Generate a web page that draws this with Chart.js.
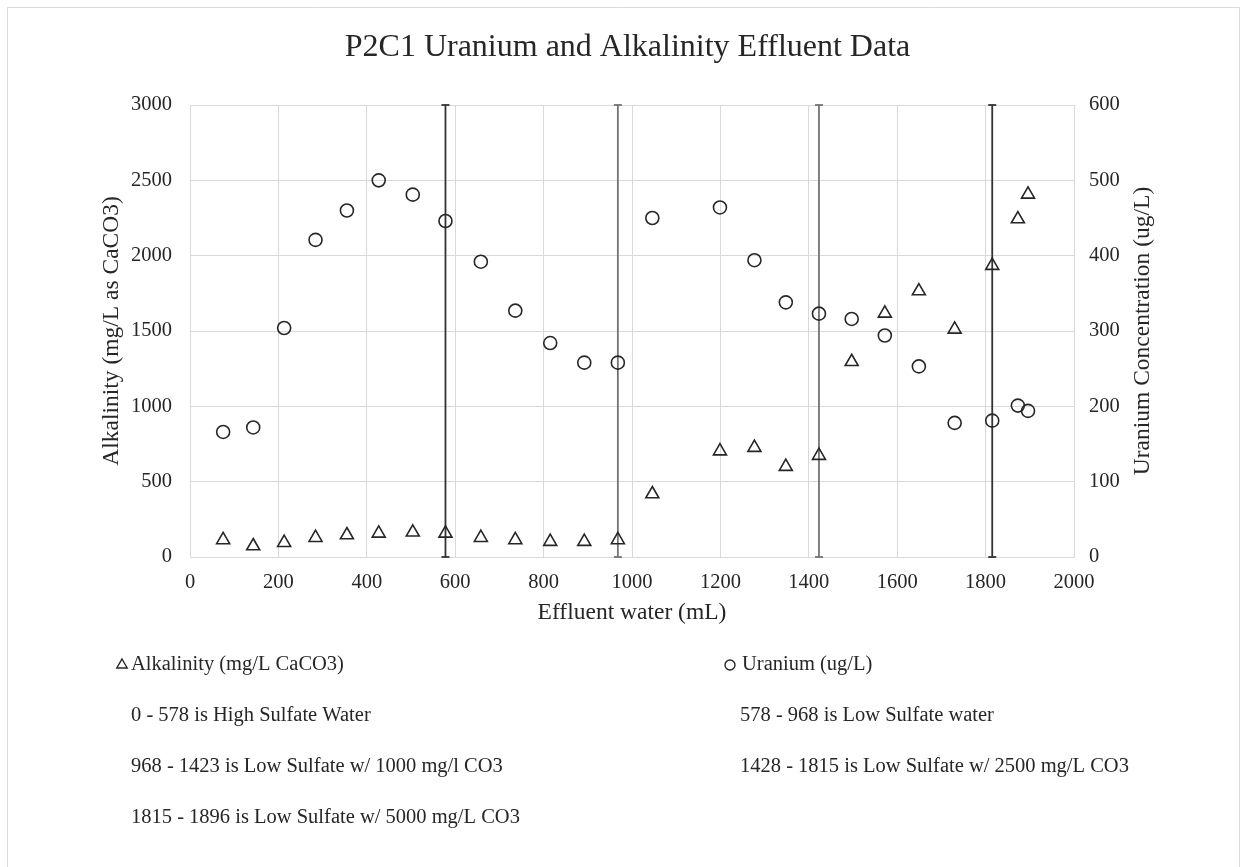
<!DOCTYPE html>
<html>
<head>
<meta charset="utf-8">
<script src="https://cdn.jsdelivr.net/npm/chart.js@4.4.1/dist/chart.umd.min.js"></script>
<style>
  html, body { margin: 0; padding: 0; background: #fff; }
</style>
</head>
<body>
<canvas id="chart" width="1245" height="867"></canvas>
<script>
// effluent volume (mL) shared by both series
const effluent = [75, 143, 213, 284, 355, 427, 504, 578, 658, 736, 815, 892, 968,
                  1046, 1199, 1277, 1348, 1423, 1497, 1572, 1649, 1730, 1815, 1873, 1896];
const alkalinity = [113, 73, 95, 128, 146, 157, 164, 157, 128, 113, 102, 102, 113,
                    418, 703, 726, 600, 673, 1296, 1617, 1765, 1511, 1934, 2243, 2407];
const uranium = [166, 172, 304, 421, 460, 500, 481, 446, 392, 327, 284, 258, 258,
                 450, 464, 394, 338, 323, 316, 294, 253, 178, 181, 201, 194];
// water change points, drawn as vertical lines
const boundaries = [578, 968, 1423, 1815];
const rangeLabels = [
    '0 - 578 is High Sulfate Water',
    '578 - 968 is Low Sulfate water',
    '968 - 1423 is Low Sulfate w/ 1000 mg/l CO3',
    '1428 - 1815 is Low Sulfate w/ 2500 mg/L CO3',
    '1815 - 1896 is Low Sulfate w/ 5000 mg/L CO3'
];
const xTicks = [0, 2000, 200];
const yTicks = [0, 3000, 500];
const y2Ticks = [0, 600, 100];

const FONT = "'Liberation Serif', 'Times New Roman', serif";
const INK = '#262626';
const GRID = '#d9d9d9';

const datasets = [
    {
        label: 'Alkalinity (mg/L CaCO3)',
        data: effluent.map((x, i) => ({ x: x, y: alkalinity[i] })),
        yAxisID: 'y',
        pointStyle: 'triangle',
        pointRadius: 7.5,
        borderColor: INK,
        backgroundColor: 'rgba(0,0,0,0)',
        borderWidth: 1.6,
        legendMarker: 6
    },
    {
        label: 'Uranium (ug/L)',
        data: effluent.map((x, i) => ({ x: x, y: uranium[i] })),
        yAxisID: 'y2',
        pointStyle: 'circle',
        pointRadius: 6.5,
        borderColor: INK,
        backgroundColor: 'rgba(0,0,0,0)',
        borderWidth: 1.6,
        legendMarker: 5
    }
];

const lineColors = ['#333333', '#737373', '#737373', '#333333'];
rangeLabels.forEach((lbl, i) => {
    const b = boundaries[i];
    datasets.push({
        label: lbl,
        data: b === undefined ? [] : [{ x: b, y: yTicks[0] }, { x: b, y: yTicks[1] }],
        yAxisID: 'y',
        showLine: true,
        clip: false,
        borderColor: lineColors[i] || INK,
        backgroundColor: lineColors[i] || INK,
        borderWidth: 1.8,
        pointStyle: 'line',
        pointRadius: 4,
        pointBorderWidth: 1.8
    });
});

// legend laid out in two columns under the plot
const legendSpots = [
    { mx: 122, tx: 131, y: 665 },
    { mx: 730, tx: 742, y: 665 },
    { tx: 131, y: 716 },
    { tx: 740, y: 716 },
    { tx: 131, y: 767 },
    { tx: 740, y: 767 },
    { tx: 131, y: 818 }
];

const columnLegend = {
    id: 'columnLegend',
    afterDraw(chart) {
        const ctx = chart.ctx;
        ctx.save();
        ctx.font = '20.5px ' + FONT;
        ctx.textBaseline = 'middle';
        ctx.textAlign = 'left';
        chart.data.datasets.forEach((ds, i) => {
            const spot = legendSpots[i];
            if (!spot) return;
            if (spot.mx !== undefined) {
                ctx.strokeStyle = ds.borderColor;
                ctx.fillStyle = 'rgba(0,0,0,0)';
                ctx.lineWidth = 1.4;
                Chart.helpers.drawPoint(ctx, {
                    pointStyle: ds.pointStyle,
                    radius: ds.legendMarker,
                    rotation: 0,
                    borderWidth: 1.4
                }, spot.mx, spot.y);
            }
            ctx.fillStyle = INK;
            ctx.fillText(ds.label, spot.tx, spot.y);
        });

        // right axis title reads bottom-to-top like the left one
        const s = chart.scales.y2;
        const t = s.options.title;
        ctx.translate(1143, (s.top + s.bottom) / 2);
        ctx.rotate(-Math.PI / 2);
        ctx.font = t.font.size + 'px ' + FONT;
        ctx.textAlign = 'center';
        ctx.fillStyle = INK;
        ctx.fillText(t.text, 0, 0);
        ctx.restore();
    }
};

const frame = {
    id: 'frame',
    beforeDraw(chart) {
        const ctx = chart.ctx;
        ctx.save();
        ctx.fillStyle = '#fff';
        ctx.fillRect(0, 0, chart.width, chart.height);
        ctx.strokeStyle = GRID;
        ctx.lineWidth = 1;
        ctx.beginPath();
        ctx.moveTo(7.5, chart.height);
        ctx.lineTo(7.5, 7.5);
        ctx.lineTo(1239.5, 7.5);
        ctx.lineTo(1239.5, chart.height);
        ctx.stroke();
        ctx.restore();
    }
};

const tickFont = { family: FONT, size: 20.5 };
const titleFont = { family: FONT, size: 23.5 };
const plain = v => String(v);

new Chart(document.getElementById('chart').getContext('2d'), {
    type: 'scatter',
    data: { datasets: datasets },
    plugins: [frame, columnLegend],
    options: {
        responsive: false,
        animation: false,
        layout: { padding: { left: 98, right: 88, top: 0, bottom: 240 } },
        plugins: {
            legend: { display: false },
            tooltip: { enabled: false },
            title: {
                display: true,
                text: 'P2C1 Uranium and Alkalinity Effluent Data',
                color: INK,
                font: { family: FONT, size: 32, weight: 'normal' },
                padding: { top: 28, bottom: 38.6 }
            }
        },
        scales: {
            x: {
                type: 'linear',
                position: 'bottom',
                min: xTicks[0],
                max: xTicks[1],
                ticks: { stepSize: xTicks[2], color: INK, font: tickFont, padding: 13, callback: plain },
                grid: { color: GRID, drawTicks: false },
                border: { color: GRID },
                title: { display: true, text: 'Effluent water (mL)', color: INK, font: titleFont, padding: 0 },
                afterFit: s => { s.height = 70; }
            },
            y: {
                position: 'left',
                min: yTicks[0],
                max: yTicks[1],
                ticks: { stepSize: yTicks[2], color: INK, font: tickFont, padding: 18, callback: plain },
                grid: { color: GRID, drawTicks: false },
                border: { color: GRID },
                title: { display: true, text: 'Alkalinity (mg/L as CaCO3)', color: INK, font: titleFont, padding: 0 },
                afterFit: s => { s.width = 92; }
            },
            y2: {
                position: 'right',
                min: y2Ticks[0],
                max: y2Ticks[1],
                ticks: { stepSize: y2Ticks[2], color: INK, font: tickFont, padding: 15, callback: plain },
                grid: { drawOnChartArea: false, drawTicks: false },
                border: { color: GRID },
                title: { display: false, text: 'Uranium Concentration (ug/L)', font: titleFont },
                afterFit: s => { s.width = 83; }
            }
        }
    }
});
</script>
</body>
</html>
